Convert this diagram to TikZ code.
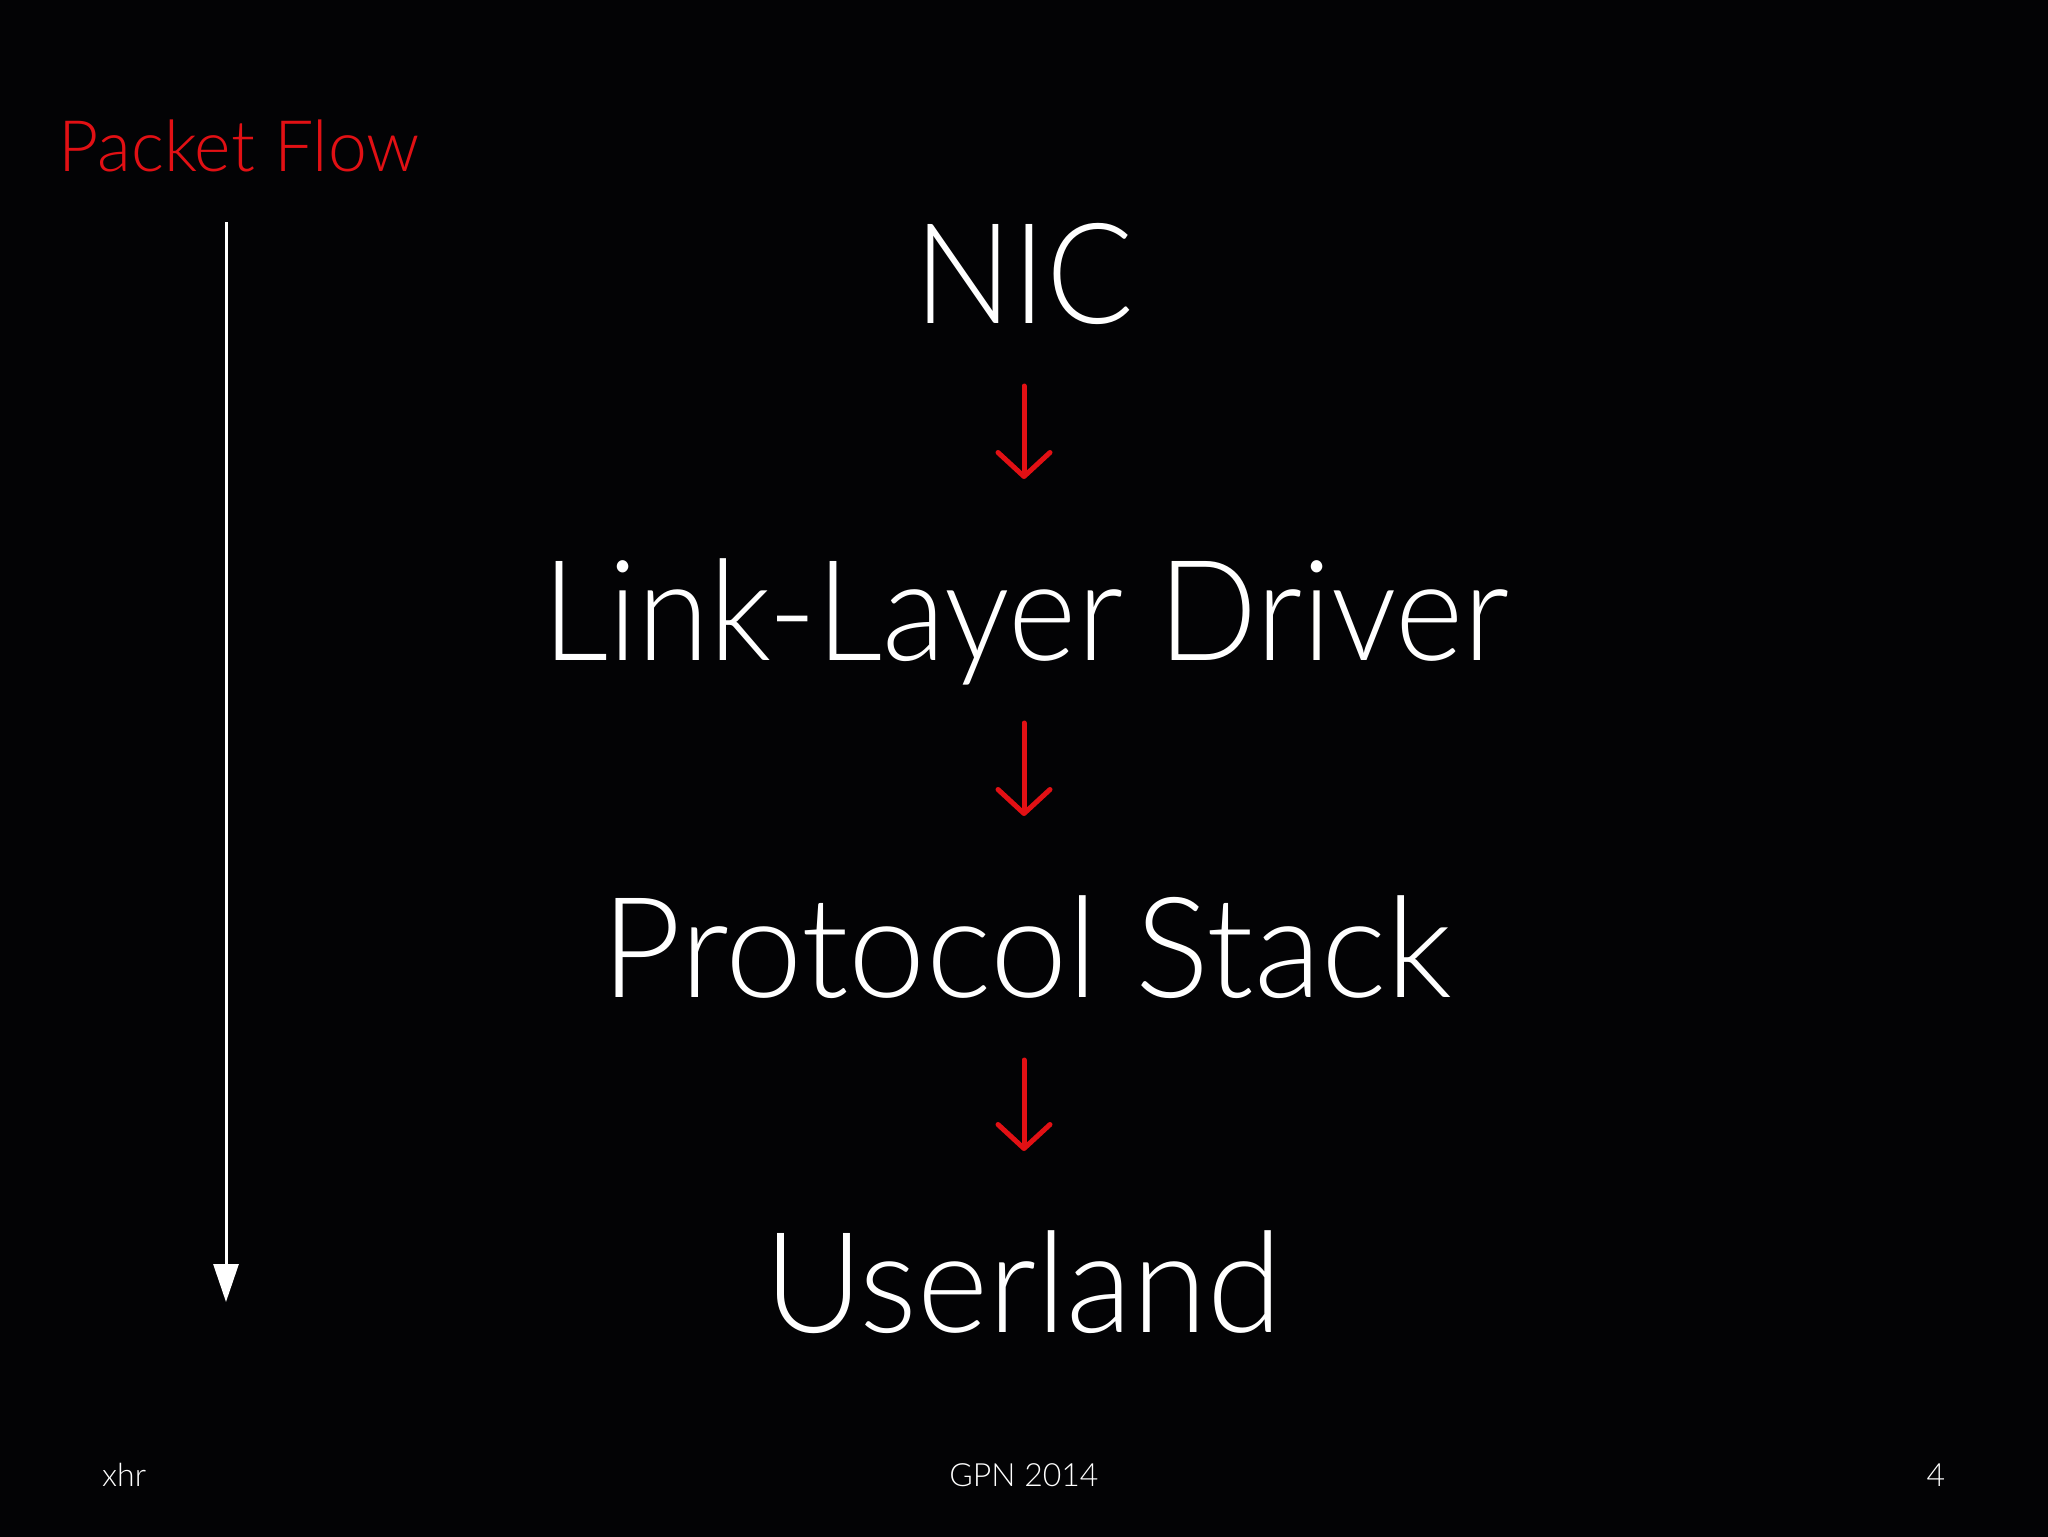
\documentclass[tikz,border=0pt]{standalone}
\usepackage{fontspec}
\setmainfont{Lato Light}
\newfontfamily\latoNIC[FakeStretch=0.925]{Lato Light}
\newfontfamily\latoLink[FakeStretch=0.933]{Lato Light}
\newfontfamily\latoProto[FakeStretch=0.99]{Lato Light}
\newfontfamily\latoUser[FakeStretch=0.972]{Lato Light}
\newfontfamily\latoTitle[FakeStretch=0.982]{Lato Light}
\usetikzlibrary{arrows.meta}
\definecolor{slidered}{RGB}{226,16,20}
\definecolor{slidebg}{RGB}{3,3,5}
\begin{document}
\begin{tikzpicture}[x=1bp,y=-1bp,
  big/.style={text=white,font=\fontsize{140bp}{150bp}\selectfont,inner sep=0pt,anchor=base},
  foot/.style={text=white,font=\fontsize{32bp}{36bp}\selectfont,inner sep=0pt,anchor=base},
  redarrow/.style={draw=slidered,line width=5bp,line cap=round,
    -{Straight Barb[length=24bp,width=52bp,round]},shorten <=63bp,shorten >=181bp},
  flowarrow/.style={draw=white,line width=3bp,-{Triangle[length=38bp,width=25bp]}}]
\useasboundingbox (0,0) rectangle (2048,1537);
\fill[slidebg] (0,0) rectangle (2048,1537);
% title
\node[text=slidered,font=\latoTitle\fontsize{71bp}{76bp}\selectfont,inner sep=0pt,anchor=base west] (title) at (58,172) {Packet Flow};
% main stack
\node[big,font=\latoNIC\fontsize{140bp}{150bp}\selectfont] (nic) at (1024,323) {NIC};
\node[big,font=\latoLink\fontsize{140bp}{150bp}\selectfont] (link) at (1026,660) {Link-Layer Driver};
\node[big,font=\latoProto\fontsize{140bp}{150bp}\selectfont] (proto) at (1027,997) {Protocol Stack};
\node[big,font=\latoUser\fontsize{140bp}{150bp}\selectfont] (user) at (1023,1332) {Userland};
\draw[redarrow] (nic.base -| 1024,0) -- (link.base -| 1024,0);
\draw[redarrow] (link.base -| 1024,0) -- (proto.base -| 1024,0);
\draw[redarrow] (proto.base -| 1024,0) -- (user.base -| 1024,0);
% packet flow arrow
\coordinate (flowtop) at (226,222);
\coordinate (flowbot) at (226,1302);
\draw[flowarrow] (flowtop) -- (flowbot);
% footer
\node[foot,anchor=base west] (author) at (102,1486) {xhr};
\node[foot] (event) at (1024,1486) {GPN 2014};
\node[foot] (page) at (1936,1486) {4};
\end{tikzpicture}
\end{document}
